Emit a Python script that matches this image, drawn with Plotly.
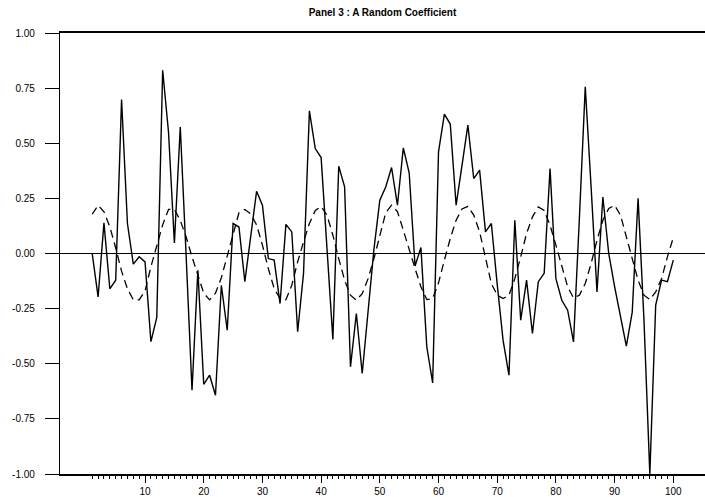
import plotly.graph_objects as go

periods = list(range(1, 101))

random_coef = [
    0.00, -0.197, 0.139, -0.160, -0.121, 0.698, 0.136, -0.048, -0.015, -0.038,
    -0.40, -0.29, 0.831, 0.55, 0.048, 0.574, -0.01, -0.62, -0.076, -0.593,
    -0.552, -0.643, -0.144, -0.348, 0.136, 0.12, -0.128, 0.08, 0.282, 0.219,
    -0.023, -0.030, -0.227, 0.132, 0.098, -0.355, -0.09, 0.647, 0.476, 0.435,
    0.02, -0.39, 0.396, 0.302, -0.514, -0.272, -0.544, -0.26, 0.02, 0.242,
    0.302, 0.39, 0.219, 0.479, 0.366, -0.057, 0.027, -0.423, -0.587, 0.461,
    0.632, 0.587, 0.219, 0.40, 0.582, 0.34, 0.378, 0.098, 0.136, -0.14,
    -0.394, -0.552, 0.151, -0.302, -0.121, -0.363, -0.128, -0.09, 0.385, -0.114,
    -0.212, -0.257, -0.401, 0.16, 0.756, 0.30, -0.174, 0.256, 0.0, -0.15,
    -0.29, -0.42, -0.266, 0.25, -0.30, -1.00, -0.234, -0.121, -0.128, -0.03,
]

smooth_coef = [
    0.178, 0.219, 0.189, 0.121, 0.025, -0.08, -0.16, -0.21, -0.21, -0.17,
    -0.06, 0.04, 0.13, 0.20, 0.20, 0.15, 0.075, -0.015, -0.10, -0.18,
    -0.21, -0.18, -0.11, -0.015, 0.09, 0.185, 0.20, 0.18, 0.13, 0.038,
    -0.068, -0.159, -0.204, -0.21, -0.144, -0.038, 0.053, 0.136, 0.195, 0.213,
    0.174, 0.083, -0.023, -0.121, -0.189, -0.212, -0.182, -0.114, -0.023, 0.076,
    0.185, 0.219, 0.19, 0.106, 0.015, -0.068, -0.151, -0.209, -0.204, -0.133,
    -0.030, 0.068, 0.151, 0.202, 0.214, 0.174, 0.098, -0.023, -0.136, -0.189,
    -0.204, -0.189, -0.114, -0.015, 0.091, 0.166, 0.211, 0.195, 0.128, 0.038,
    -0.060, -0.151, -0.202, -0.189, -0.136, -0.045, 0.06, 0.151, 0.204, 0.219,
    0.174, 0.076, -0.023, -0.121, -0.189, -0.209, -0.174, -0.114, -0.015, 0.072,
]

x_major_ticks = [10, 20, 30, 40, 50, 60, 70, 80, 90, 100]
y_tick_vals = [1.0, 0.75, 0.5, 0.25, 0.0, -0.25, -0.5, -0.75, -1.0]
y_tick_text = ["1.00", "0.75", "0.50", "0.25", "0.00", "-0.25", "-0.50", "-0.75", "-1.00"]

fig = go.Figure()
fig.add_trace(go.Scatter(x=periods, y=smooth_coef, mode="lines",
                         line=dict(color="black", width=1.3, dash="8px,5px"),
                         showlegend=False))
fig.add_trace(go.Scatter(x=periods, y=random_coef, mode="lines",
                         line=dict(color="black", width=1.4),
                         showlegend=False))

font_family = "Liberation Sans, Arial, sans-serif"

fig.update_layout(
    width=705, height=497,
    margin=dict(l=60, r=0, t=33, b=23),
    paper_bgcolor="white", plot_bgcolor="white",
    font=dict(family=font_family, size=10, color="black"),
    title=dict(text="<b>Panel 3 : A Random Coefficient</b>",
               x=(60 + 705) / 2 / 705, xanchor="center",
               y=1 - 12 / 497, yanchor="middle", yref="container",
               font=dict(family=font_family, size=10, color="black")),
    xaxis=dict(range=[-4.49, 105.4], showgrid=False, zeroline=False,
               showline=True, linecolor="black", linewidth=1.5, mirror=True,
               ticks="outside", ticklen=7, tickwidth=1, tickcolor="black",
               tickmode="array", tickvals=x_major_ticks,
               tickfont=dict(size=10),
               minor=dict(tickmode="array", tickvals=periods, ticks="outside",
                          ticklen=3.5, tickwidth=1, tickcolor="black",
                          showgrid=False)),
    yaxis=dict(range=[-1, 1], showgrid=False,
               zeroline=True, zerolinecolor="black", zerolinewidth=1.3,
               showline=True, linecolor="black", linewidth=1.3,
               ticks="outside", ticklen=14, tickwidth=1, tickcolor="black",
               ticklabelstandoff=8,
               tickmode="array", tickvals=y_tick_vals, ticktext=y_tick_text,
               tickfont=dict(size=10)),
)

fig.write_html("out.html",
               config={"displayModeBar": False},
               post_script="document.body.style.margin='0';document.body.style.overflow='hidden';")
